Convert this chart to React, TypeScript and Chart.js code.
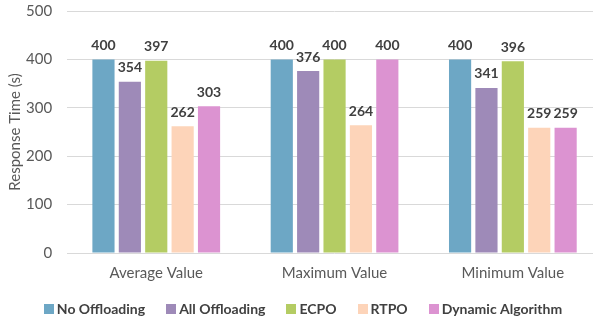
import React, { useEffect, useRef } from "react";
import { Chart, registerables } from "chart.js";

Chart.register(...registerables);

const categories = ["Average Value", "Maximum Value", "Minimum Value"];
const seriesNames = ["No Offloading", "All Offloading", "ECPO", "RTPO", "Dynamic Algorithm"];
const noOffloading = [400, 400, 400];
const allOffloading = [354, 376, 341];
const ecpo = [397, 400, 396];
const rtpo = [262, 264, 259];
const dynamicAlgorithm = [303, 400, 259];
const seriesColors = ["#6DA7C5", "#9E8AB8", "#B4CC63", "#FDD4B9", "#DC93D1"];
const yTicks = [0, 100, 200, 300, 400, 500];

const FONT = "Lato, 'Open Sans', sans-serif";

const dataLabelPlugin = {
  id: "dataLabels",
  afterDatasetsDraw(chart: any) {
    const ctx = chart.ctx;
    ctx.save();
    ctx.font = `bold 14px ${FONT}`;
    ctx.fillStyle = "#404040";
    ctx.textAlign = "center";
    ctx.textBaseline = "bottom";
    chart.data.datasets.forEach((ds: any, i: number) => {
      const meta = chart.getDatasetMeta(i);
      meta.data.forEach((bar: any, j: number) => {
        ctx.fillText(String(ds.data[j]), bar.x, bar.y - 7);
      });
    });
    ctx.restore();
  },
};

const legendPlugin = {
  id: "customLegend",
  afterDraw(chart: any) {
    const ctx = chart.ctx;
    ctx.save();
    ctx.font = `bold 14px ${FONT}`;
    const box = 10;
    const gapBoxText = 3;
    const gapItems = 21;
    const widths = chart.data.datasets.map((ds: any) => ctx.measureText(ds.label).width);
    const total =
      widths.reduce((a: number, w: number) => a + box + gapBoxText + w, 0) +
      gapItems * (widths.length - 1);
    let x = 303 - total / 2;
    const y = 309;
    ctx.textBaseline = "middle";
    ctx.textAlign = "left";
    chart.data.datasets.forEach((ds: any, i: number) => {
      ctx.fillStyle = ds.backgroundColor;
      ctx.fillRect(Math.round(x), y - box / 2, box, box);
      x += box + gapBoxText;
      ctx.fillStyle = "#404040";
      ctx.fillText(ds.label, x, y);
      x += widths[i] + gapItems;
    });
    ctx.restore();
  },
};

export default function App() {
  const ref = useRef<HTMLCanvasElement>(null);
  useEffect(() => {
    if (!ref.current) return;
    const values = [noOffloading, allOffloading, ecpo, rtpo, dynamicAlgorithm];
    const chart = new Chart(ref.current, {
      type: "bar",
      data: {
        labels: categories,
        datasets: values.map((v, i) => ({
          label: seriesNames[i],
          data: v,
          backgroundColor: seriesColors[i],
          borderWidth: 0,
          categoryPercentage: 0.74,
          barPercentage: 0.84,
        })),
      },
      options: {
        responsive: false,
        animation: false,
        layout: { padding: { top: 11, right: 1, left: 6, bottom: 28 } },
        plugins: {
          legend: { display: false },
          tooltip: { enabled: false },
        },
        scales: {
          x: {
            grid: { display: false, drawTicks: false },
            border: { display: false },
            ticks: { color: "#595959", font: { family: FONT, size: 15 }, padding: 11 },
          },
          y: {
            min: 0,
            max: 500,
            afterBuildTicks: (axis: any) => {
              axis.ticks = yTicks.map((v) => ({ value: v }));
            },
            grid: {
              color: "#D9D9D9",
              lineWidth: 1,
              drawTicks: true,
              tickLength: 15,
              tickColor: "rgba(0,0,0,0)",
            },
            border: { display: false },
            ticks: { color: "#595959", font: { family: FONT, size: 15 }, padding: 0 },
            title: {
              display: true,
              text: "Response Time (s)",
              color: "#595959",
              font: { family: FONT, size: 15 },
              padding: { top: 0, bottom: 2 },
            },
          },
        },
      },
      plugins: [dataLabelPlugin, legendPlugin],
    });
    return () => chart.destroy();
  }, []);
  return (
    <div
      style={{
        position: "absolute",
        left: 0,
        top: 0,
        width: 593,
        height: 321,
        overflow: "hidden",
        background: "#FFFFFF",
      }}
    >
      <canvas ref={ref} width={603} height={321} style={{ display: "block" }} />
    </div>
  );
}
